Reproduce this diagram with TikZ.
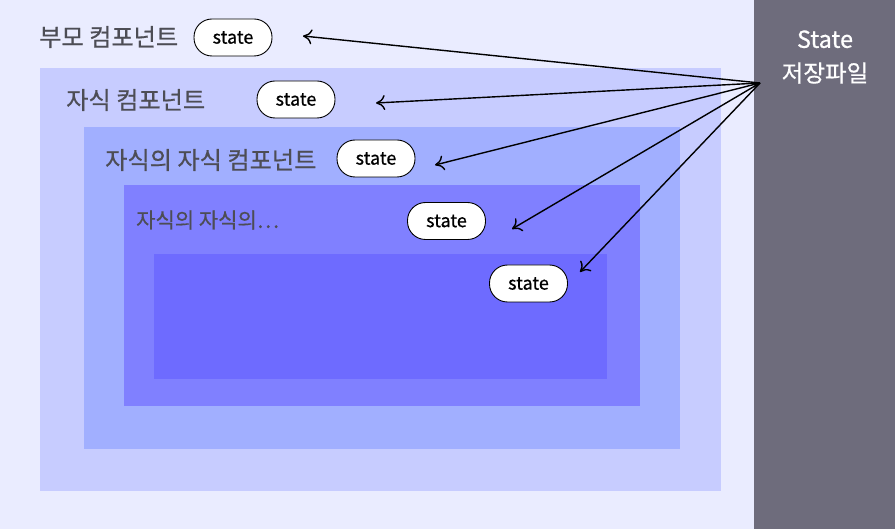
\documentclass[tikz,border=0pt]{standalone}
\usepackage{fontspec}
\setmainfont{Noto Sans CJK KR}
\newfontfamily\medfont{Noto Sans CJK KR}[FakeBold=0.6]
\usetikzlibrary{arrows.meta}
\definecolor{bgc}{HTML}{EAECFF}
\definecolor{panel}{HTML}{6E6C7C}
\definecolor{lv1}{HTML}{C7CCFF}
\definecolor{lv2}{HTML}{A1AFFF}
\definecolor{lv3}{HTML}{8080FF}
\definecolor{lv4}{HTML}{6E6BFF}
\definecolor{lbl}{HTML}{4D4D55}
\tikzset{
  statepill/.style={draw=black, line width=0.9pt, fill=white, rounded corners=18pt,
    minimum width=78pt, minimum height=37pt, inner sep=0pt, font=\medfont\fontsize{18}{20}\selectfont},
  complabel/.style={anchor=west, text=lbl, inner sep=0pt, font=\medfont\fontsize{24.2}{26}\selectfont},
  ptr/.style={-{To[length=9pt,width=15pt]}, line width=1.4pt, black}
}
\begin{document}
\begin{tikzpicture}[x=1pt,y=-1pt]
\useasboundingbox (0,0) rectangle (895,529);
\fill[bgc] (0,0) rectangle (754,529);
\fill[panel] (754,0) rectangle (895,529);
\fill[lv1] (40,68) rectangle (721,491);
\fill[lv2] (84,127) rectangle (680,449);
\fill[lv3] (124,185) rectangle (640,406);
\fill[lv4] (154,254) rectangle (607,379);

\node[complabel] (l1) at (39,37) {부모 컴포넌트};
\node[complabel] (l2) at (66,100) {자식 컴포넌트};
\node[complabel] (l3) at (105,160) {자식의 자식 컴포넌트};
\node[complabel, font=\medfont\fontsize{21}{23}\selectfont] (l4) at (136,220) {자식의 자식의…};

\node[statepill] (s1) at (233,37.5) {state};
\node[statepill] (s2) at (296,99.5) {state};
\node[statepill] (s3) at (376,158.5) {state};
\node[statepill] (s4) at (446.5,221) {state};
\node[statepill] (s5) at (528.5,283.5) {state};

\node[text=white, align=center, font=\medfont\fontsize{23.5}{34}\selectfont] (file) at (825,57) {State\\저장파일};

\coordinate (src) at (760,83);
\coordinate (t1) at (303,36);
\coordinate (t2) at (376,103);
\coordinate (t3) at (435,165);
\coordinate (t4) at (512,229);
\coordinate (t5) at (580,272);
\foreach \t in {t1,t2,t3,t4,t5} \draw[ptr] (src) -- (\t);
\end{tikzpicture}
\end{document}
